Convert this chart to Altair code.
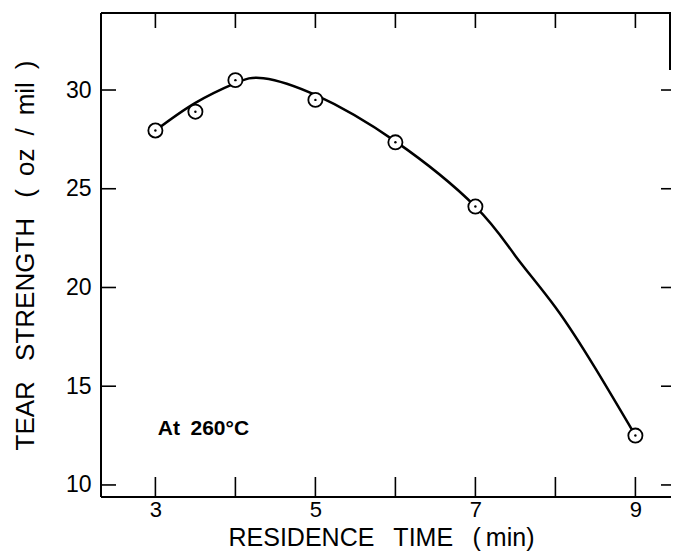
import altair as alt
import pandas as pd

# measured points (residence time in min, tear strength in oz/mil)
time_pts = [3.0, 3.5, 4.0, 5.0, 6.0, 7.0, 9.0]
tear_pts = [27.95, 28.9, 30.5, 29.5, 27.35, 24.1, 12.5]

# smooth fitted curve as drawn in the figure
curve_time = [3.0, 3.5, 4.0, 4.35, 5.0, 6.0, 7.0, 7.5, 8.0, 8.5, 9.0]
curve_tear = [27.95, 29.35, 30.35, 30.6, 29.75, 27.4, 24.1, 21.6, 19.0, 15.9, 12.5]

x_ticks = [3, 4, 5, 6, 7, 8, 9]
x_labels = [3, 5, 7, 9]
y_ticks = [10, 15, 20, 25, 30]

note_text = ["At\u2002260°C"]
note_time = [3.03]
note_tear = [12.85]

W, H = 570, 484
FONT = "Liberation Sans"

xs = alt.Scale(domain=[2.32, 9.445], nice=False, zero=False)
ys = alt.Scale(domain=[9.39, 33.9], nice=False, zero=False)

pts = pd.DataFrame({"t": time_pts, "s": tear_pts})
crv = pd.DataFrame({"t": curve_time, "s": curve_tear})
xt = pd.DataFrame({"t": x_ticks})
yt = pd.DataFrame({"s": y_ticks})
one = pd.DataFrame({"k": [0]})
note = pd.DataFrame({"t": note_time, "s": note_tear, "label": note_text})

x_axis = alt.Axis(
    values=x_labels, title="RESIDENCE\u2002 TIME\u2002 (\u2009min)", tickSize=0, domain=False,
    grid=False, labelFontSize=22, labelPadding=2, labelFont=FONT, labelColor="black",
    titleFont=FONT, titleFontSize=25, titleFontWeight="normal", titleColor="black",
    titleX=280, titleY=48, titleBaseline="alphabetic", titleAlign="center",
)
y_axis = alt.Axis(
    values=y_ticks, title="TEAR\u2002 STRENGTH\u2002 (\u2002oz\u2002/\u2002mil\u2002)", tickSize=0,
    domain=False, grid=False, labelFontSize=23, labelPadding=10, labelFont=FONT, labelColor="black",
    titleFont=FONT, titleFontSize=26, titleFontWeight="normal", titleColor="black",
    titleX=-68, titleY=242, titleBaseline="alphabetic", titleAlign="center", titleAngle=270,
)

X = alt.X("t:Q", scale=xs, axis=x_axis)
Y = alt.Y("s:Q", scale=ys, axis=y_axis)

curve = alt.Chart(crv).mark_line(color="black", strokeWidth=2.5, interpolate="natural").encode(x=X, y=Y)

circles = alt.Chart(pts).mark_point(
    shape="circle", filled=True, fill="white", stroke="black", strokeWidth=1.8, size=200, opacity=1
).encode(x=X, y=Y)
dots = alt.Chart(pts).mark_point(shape="circle", filled=True, color="black", size=6, opacity=1).encode(x=X, y=Y)

label = alt.Chart(note).mark_text(
    align="left", baseline="middle", fontWeight="bold", fontSize=21, font=FONT, color="black"
).encode(x=X, y=Y, text="label:N")

SW = 1.6
bottom_ticks = alt.Chart(xt).mark_rule(color="black", strokeWidth=SW).encode(
    x=X, y=alt.value(H), y2=alt.value(H - 20))
top_ticks = alt.Chart(xt).mark_rule(color="black", strokeWidth=SW).encode(
    x=X, y=alt.value(0), y2=alt.value(15))
left_ticks = alt.Chart(yt).mark_rule(color="black", strokeWidth=SW).encode(
    y=Y, x=alt.value(0), x2=alt.value(15))
right_ticks = alt.Chart(yt).mark_rule(color="black", strokeWidth=SW).encode(
    y=Y, x=alt.value(W - 10), x2=alt.value(W))

frame_left = alt.Chart(one).mark_rule(color="black", strokeWidth=2).encode(
    x=alt.value(0), y=alt.value(0), y2=alt.value(H))
frame_bottom = alt.Chart(one).mark_rule(color="black", strokeWidth=2).encode(
    x=alt.value(0), x2=alt.value(W), y=alt.value(H))
frame_top = alt.Chart(one).mark_rule(color="black", strokeWidth=2).encode(
    x=alt.value(0), x2=alt.value(W), y=alt.value(0))
frame_right = alt.Chart(one).mark_rule(color="black", strokeWidth=2).encode(
    x=alt.value(W - 1), y=alt.value(0), y2=alt.value(57))

chart = alt.layer(
    curve, circles, dots, label,
    bottom_ticks, top_ticks, left_ticks, right_ticks,
    frame_left, frame_bottom, frame_top, frame_right,
).properties(
    width=W, height=H, autosize="none",
    padding={"left": 93, "top": 5, "right": 0, "bottom": 56},
    background="white",
).configure_view(stroke=None)

chart.save("out.html", embed_options={"renderer": "svg", "actions": False})
